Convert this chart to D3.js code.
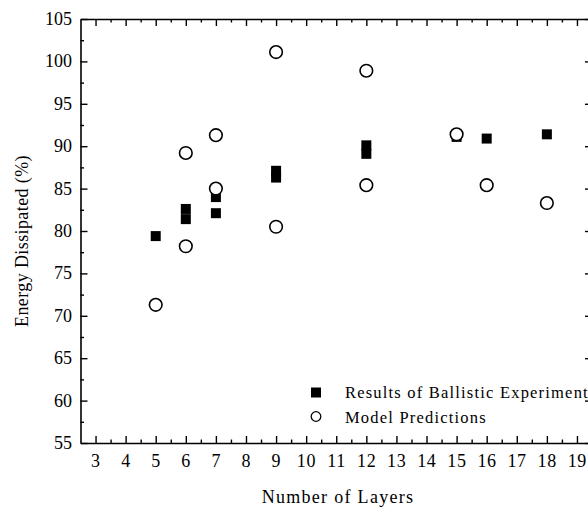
<!DOCTYPE html>
<html>
<head>
<meta charset="utf-8">
<script src="https://cdn.jsdelivr.net/npm/d3@7"></script>
<style>
  body { margin: 0; background: #fff; }
  svg { display: block; font-family: "Liberation Serif", "DejaVu Serif", serif; }
  .axis path, .axis line { stroke: #000; }
</style>
</head>
<body>
<div id="chart"></div>
<script>
'use strict';

const exp_layers = [5, 6, 6, 7, 7, 9, 9, 12, 12, 15, 16, 18];
const exp_energy = [79.4, 82.6, 81.4, 84.0, 82.1, 87.1, 86.3, 90.1, 89.1, 91.1, 90.9, 91.4];
const model_layers = [5, 6, 6, 7, 7, 9, 9, 12, 12, 15, 16, 18];
const model_energy = [71.3, 89.2, 78.2, 85.0, 91.3, 101.1, 80.5, 98.9, 85.4, 91.4, 85.4, 83.3];
const x_ticks = d3.range(3, 20);
const y_ticks = d3.range(55, 106, 5);
const legend_labels = ['Results of Ballistic Experiment', 'Model Predictions'];

const width = 588, height = 509;
const margin = {top: 19, left: 80.5, bottom: 66};
const plot_right = 592;
const serif = '"Liberation Serif", "Times New Roman", serif';

const svg = d3.select('#chart').append('svg')
    .attr('width', width)
    .attr('height', height);

const x = d3.scaleLinear().domain([2.5, 19.5]).range([margin.left, plot_right]);
const y = d3.scaleLinear().domain([55, 105]).range([height - margin.bottom, margin.top]);

const major = 7, minor = 3.5;
const x_minor = d3.range(3.5, 19.5, 1);
const y_minor = d3.range(57.5, 105, 5);

// minor ticks first, then the framed axes on top
svg.append('g').attr('class', 'axis')
    .attr('transform', `translate(0,${y(55)})`)
    .call(d3.axisBottom(x).tickValues(x_minor).tickSize(-minor).tickFormat('').tickSizeOuter(0))
    .call(g => g.select('.domain').remove());
svg.append('g').attr('class', 'axis')
    .attr('transform', `translate(0,${y(105)})`)
    .call(d3.axisTop(x).tickValues(x_minor).tickSize(-minor).tickFormat('').tickSizeOuter(0))
    .call(g => g.select('.domain').remove());
svg.append('g').attr('class', 'axis')
    .attr('transform', `translate(${x(2.5)},0)`)
    .call(d3.axisLeft(y).tickValues(y_minor).tickSize(-minor).tickFormat('').tickSizeOuter(0))
    .call(g => g.select('.domain').remove());
svg.append('g').attr('class', 'axis')
    .attr('transform', `translate(${x(19.5)},0)`)
    .call(d3.axisRight(y).tickValues(y_minor).tickSize(-minor).tickFormat('').tickSizeOuter(0))
    .call(g => g.select('.domain').remove());

svg.append('g').attr('class', 'axis x-axis')
    .attr('transform', `translate(0,${y(55)})`)
    .call(d3.axisBottom(x).tickValues(x_ticks).tickSize(-major).tickSizeOuter(0).tickFormat(''))
    .call(g => g.select('.domain').attr('stroke-width', 1.6));
svg.append('g').attr('class', 'axis')
    .attr('transform', `translate(0,${y(105)})`)
    .call(d3.axisTop(x).tickValues(x_ticks).tickSize(-major).tickSizeOuter(0).tickFormat(''))
    .call(g => g.select('.domain').attr('stroke-width', 1.6));
svg.append('g').attr('class', 'axis y-axis')
    .attr('transform', `translate(${x(2.5)},0)`)
    .call(d3.axisLeft(y).tickValues(y_ticks).tickSize(-major).tickSizeOuter(0).tickFormat(''))
    .call(g => g.select('.domain').attr('stroke-width', 1.6));
svg.append('g').attr('class', 'axis')
    .attr('transform', `translate(${x(19.5)},0)`)
    .call(d3.axisRight(y).tickValues(y_ticks).tickSize(-major).tickSizeOuter(0).tickFormat(''))
    .call(g => g.select('.domain').attr('stroke-width', 1.6));

svg.selectAll('.axis .tick line').attr('stroke-width', 1.4);

// tick labels
svg.append('g').selectAll('text')
    .data(x_ticks)
    .join('text')
    .attr('x', d => x(d) + 0.3)
    .attr('y', 467)
    .attr('text-anchor', 'middle')
    .style('font-family', serif)
    .style('font-size', '18px')
    .style('letter-spacing', '0.6px')
    .text(d => d);
svg.append('g').selectAll('text')
    .data(y_ticks)
    .join('text')
    .attr('x', 72)
    .attr('y', d => y(d))
    .attr('dy', '0.33em')
    .attr('text-anchor', 'end')
    .style('font-family', serif)
    .style('font-size', '18px')
    .text(d => d);

// axis titles
svg.append('text')
    .attr('x', 338)
    .attr('y', 503)
    .attr('text-anchor', 'middle')
    .style('font-family', serif)
    .style('font-size', '18px')
    .style('letter-spacing', '1.3px')
    .text('Number of Layers');
svg.append('text')
    .attr('transform', 'translate(28,241) rotate(-90)')
    .attr('text-anchor', 'middle')
    .style('font-family', serif)
    .style('font-size', '18px')
    .style('letter-spacing', '0.4px')
    .text('Energy Dissipated (%)');

// points
const sq = 10;
const exp_data = exp_layers.map((l, i) => [l, exp_energy[i]]);
const model_data = model_layers.map((l, i) => [l, model_energy[i]]);

svg.append('g').selectAll('rect')
    .data(exp_data)
    .join('rect')
    .attr('x', d => x(d[0]) - sq / 2)
    .attr('y', d => y(d[1]) - sq / 2)
    .attr('width', sq)
    .attr('height', sq)
    .attr('fill', '#000');

svg.append('g').selectAll('circle')
    .data(model_data)
    .join('circle')
    .attr('cx', d => x(d[0]))
    .attr('cy', d => y(d[1]))
    .attr('r', 6.3)
    .attr('fill', '#fff')
    .attr('stroke', '#000')
    .attr('stroke-width', 1.6);

// legend
const legend = svg.append('g').attr('transform', 'translate(316,392.5)');
legend.append('rect')
    .attr('x', -5).attr('y', -5).attr('width', 10).attr('height', 10)
    .attr('fill', '#000');
legend.append('circle')
    .attr('cx', 0).attr('cy', 24).attr('r', 4.8)
    .attr('fill', '#fff').attr('stroke', '#000').attr('stroke-width', 1.3);
legend.selectAll('text.lbl')
    .data(legend_labels)
    .join('text')
    .attr('class', 'lbl')
    .attr('x', 29)
    .attr('y', (d, i) => 5 + i * 25.5)
    .style('font-family', serif)
    .style('font-size', '16.5px')
    .style('letter-spacing', '1.2px')
    .text(d => d);
</script>
</body>
</html>
